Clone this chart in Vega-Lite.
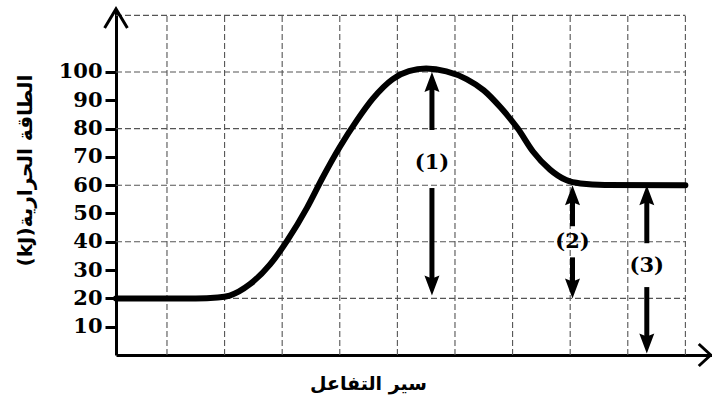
{
  "$schema": "https://vega.github.io/schema/vega-lite/v6.json",
  "width": 596,
  "height": 346,
  "autosize": "none",
  "padding": {"left": 116, "top": 9, "right": 0, "bottom": 46},
  "background": "white",
  "config": {
    "view": {"stroke": null},
    "axis": {"labelOverlap": false, "grid": false}
  },
  "datasets": {
    "curve": [
      {"x": -0.885, "e": 20}, {"x": 0, "e": 20}, {"x": 0.5, "e": 20}, {"x": 0.88, "e": 20.3},
      {"x": 1.09, "e": 21}, {"x": 1.44, "e": 25}, {"x": 1.79, "e": 32}, {"x": 2.09, "e": 40.5},
      {"x": 2.43, "e": 52}, {"x": 2.71, "e": 63}, {"x": 3.0, "e": 73.5}, {"x": 3.3, "e": 83},
      {"x": 3.57, "e": 90.5}, {"x": 3.92, "e": 97.5}, {"x": 4.2, "e": 100.3}, {"x": 4.5, "e": 101.2},
      {"x": 4.85, "e": 100.2}, {"x": 5.2, "e": 97.5}, {"x": 5.5, "e": 93.5}, {"x": 5.79, "e": 87.5},
      {"x": 6.09, "e": 80}, {"x": 6.35, "e": 72}, {"x": 6.65, "e": 65.5}, {"x": 6.93, "e": 61.8},
      {"x": 7.18, "e": 60.6}, {"x": 7.6, "e": 60.1}, {"x": 9.0, "e": 60}
    ],
    "gridV": [{"x": 0}, {"x": 1}, {"x": 2}, {"x": 3}, {"x": 4}, {"x": 5}, {"x": 6}, {"x": 7}, {"x": 8}, {"x": 9}],
    "gridH": [{"e": 20}, {"e": 40}, {"e": 60}, {"e": 80}, {"e": 100}, {"e": 120}],
    "shafts": [
      {"x": 4.6, "e": 79.5, "e2": 95},
      {"x": 4.6, "e": 59, "e2": 26},
      {"x": 7.04, "e": 45.5, "e2": 55},
      {"x": 7.04, "e": 34.5, "e2": 25},
      {"x": 8.33, "e": 39.5, "e2": 55},
      {"x": 8.33, "e": 24, "e2": 5}
    ],
    "headsUp": [
      {"x": 4.6, "e": 100},
      {"x": 7.04, "e": 60},
      {"x": 8.33, "e": 60}
    ],
    "headsDown": [
      {"x": 4.6, "e": 21},
      {"x": 7.04, "e": 20},
      {"x": 8.33, "e": 0.5}
    ],
    "labels": [
      {"x": 4.6, "e": 67.8, "label": "(1)"},
      {"x": 7.04, "e": 39.8, "label": "(2)"},
      {"x": 8.33, "e": 31.5, "label": "(3)"}
    ],
    "yArrow": [{"x": -0.885, "e": 122.26}],
    "xArrow": [{"x": 9.44, "e": 0}]
  },
  "layer": [
    {
      "data": {"name": "gridV"},
      "mark": {"type": "rule", "color": "#555", "strokeWidth": 1.1, "strokeDash": [6, 3]},
      "encoding": {
        "x": {"field": "x", "type": "quantitative", "scale": {"domain": [-0.885, 9.462], "nice": false, "zero": false},
          "axis": {"title": "سير التفاعل", "ticks": false, "labels": false, "grid": false, "domainColor": "black", "domainWidth": 3,
            "titleFont": "DejaVu Sans", "titleFontSize": 19, "titleFontWeight": "bold", "titleColor": "black",
            "titleX": 252, "titleY": 28, "titleAlign": "center", "titleBaseline": "middle"}},
        "y": {"datum": 0, "type": "quantitative", "scale": {"domain": [0, 122.26], "nice": false, "zero": false},
          "axis": {"title": "(kJ)الطاقة الحرارية", "values": [10, 20, 30, 40, 50, 60, 70, 80, 90, 100], "tickCount": 20, "grid": false,
            "labelOverlap": false, "labelFlush": false,
            "domainColor": "black", "domainWidth": 3, "tickColor": "black", "tickSize": 11, "tickWidth": 3,
            "labelFont": "DejaVu Serif", "labelFontSize": 21, "labelFontWeight": "bold", "labelColor": "black", "labelPadding": 3,
            "titleFont": "DejaVu Sans", "titleFontSize": 20, "titleFontWeight": "bold", "titleColor": "black",
            "titleX": -91, "titleY": 161, "titleAlign": "center", "titleBaseline": "middle", "titleAngle": -90}},
        "y2": {"datum": 120}
      }
    },
    {
      "data": {"name": "gridH"},
      "mark": {"type": "rule", "color": "#555", "strokeWidth": 1.1, "strokeDash": [6, 3]},
      "encoding": {
        "y": {"field": "e", "type": "quantitative"},
        "x": {"datum": -0.885, "type": "quantitative"},
        "x2": {"datum": 9}
      }
    },
    {
      "data": {"name": "curve"},
      "mark": {"type": "line", "color": "black", "strokeWidth": 6, "interpolate": "monotone", "strokeCap": "round"},
      "encoding": {
        "x": {"field": "x", "type": "quantitative"},
        "y": {"field": "e", "type": "quantitative"}
      }
    },
    {
      "data": {"name": "shafts"},
      "mark": {"type": "rule", "color": "black", "strokeWidth": 5},
      "encoding": {
        "x": {"field": "x", "type": "quantitative"},
        "y": {"field": "e", "type": "quantitative"},
        "y2": {"field": "e2"}
      }
    },
    {
      "data": {"name": "headsUp"},
      "mark": {"type": "point", "filled": true, "color": "black", "opacity": 1, "size": 400, "shape": "M0,0L0.75,2L0,1.7L-0.75,2Z"},
      "encoding": {
        "x": {"field": "x", "type": "quantitative"},
        "y": {"field": "e", "type": "quantitative"}
      }
    },
    {
      "data": {"name": "headsDown"},
      "mark": {"type": "point", "filled": true, "color": "black", "opacity": 1, "size": 400, "shape": "M0,0L0.75,-2L0,-1.7L-0.75,-2Z"},
      "encoding": {
        "x": {"field": "x", "type": "quantitative"},
        "y": {"field": "e", "type": "quantitative"}
      }
    },
    {
      "data": {"name": "labels"},
      "mark": {"type": "text", "font": "DejaVu Serif", "fontSize": 21, "fontWeight": "bold", "color": "black", "align": "center", "baseline": "middle"},
      "encoding": {
        "x": {"field": "x", "type": "quantitative"},
        "y": {"field": "e", "type": "quantitative"},
        "text": {"field": "label"}
      }
    },
    {
      "data": {"name": "yArrow"},
      "mark": {"type": "point", "filled": false, "stroke": "black", "strokeWidth": 3, "opacity": 1, "size": 1444, "strokeJoin": "miter", "shape": "M-0.6,1L0,0L0.6,1"},
      "encoding": {
        "x": {"field": "x", "type": "quantitative"},
        "y": {"field": "e", "type": "quantitative"}
      }
    },
    {
      "data": {"name": "xArrow"},
      "mark": {"type": "point", "filled": false, "stroke": "black", "strokeWidth": 3, "opacity": 1, "size": 1444, "strokeJoin": "miter", "shape": "M-0.63,-0.58L0,0L-0.63,0.58"},
      "encoding": {
        "x": {"field": "x", "type": "quantitative"},
        "y": {"field": "e", "type": "quantitative"}
      }
    }
  ]
}
